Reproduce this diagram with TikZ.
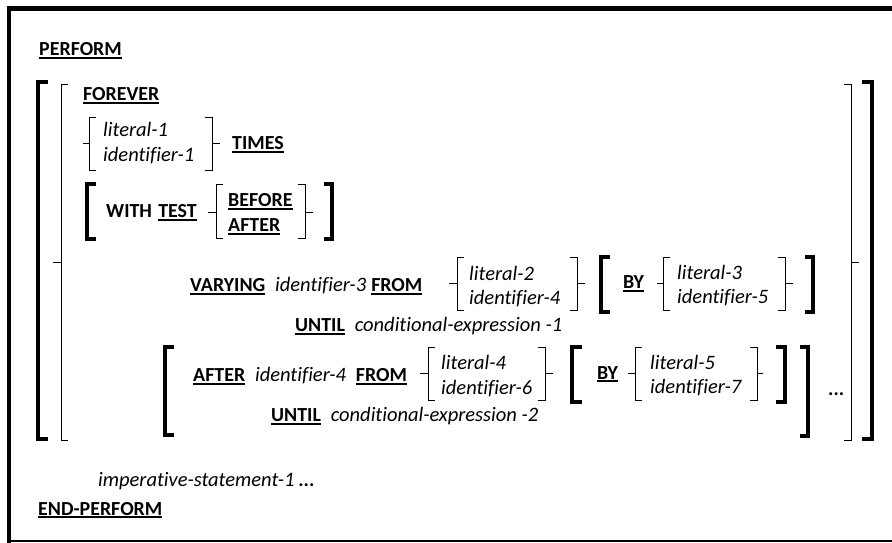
\documentclass[tikz,border=0pt]{standalone}
\usepackage{fontspec}
\setmainfont{Carlito}[Ligatures=NoCommon]
\usepackage{tikz}

% underlined keyword
\newcommand{\kwd}[1]{\setbox0=\hbox{\bfseries #1}\rlap{\rule[-2.6pt]{\wd0}{1.4pt}}\box0}

\begin{document}
\begin{tikzpicture}[
    x=0.03cm, y=-0.03cm,
    every node/.style = {inner sep=0pt, anchor=base west, font=\fontsize{17}{20}\selectfont},
    kw/.style = {font=\fontsize{17}{20}\selectfont\bfseries},
    var/.style = {font=\fontsize{17.5}{20}\selectfont\itshape},
    sqb/.style = {line width=2.6pt},
    brc/.style = {line width=0.8pt}
]
\useasboundingbox (0,0) rectangle (892,543);

% frame
\draw [line width=4.2pt] (9,543) -- (9,8.5) -- (892,8.5);
\draw [line width=1.3pt] (9,541) -- (892,541);

\node (perform) [kw] at (39,56) {\kwd{PERFORM}};

% outer brackets
\draw [sqb] (48,82) -- (38,82) -- (38,439) -- (48,439);
\draw [sqb] (862,82) -- (872,82) -- (872,439) -- (862,439);
\draw [brc] (68,84) -- (61,84) -- (61,440) -- (68,440) (61,262) -- (53,262);
\draw [brc] (844,84) -- (851,84) -- (851,440) -- (844,440) (851,262) -- (859,262);

\node (forever) [kw] at (83,101) {\kwd{FOREVER}};

% times
\draw [brc] (96,117) -- (89,117) -- (89,170) -- (96,170) (89,143) -- (83,143);
\node (lit1) [var] at (103,137) {literal-1};
\node (id1) [var] at (103,162) {identifier-1};
\draw [brc] (205,117) -- (212,117) -- (212,170) -- (205,170) (212,143) -- (220,143);
\node (times) [kw] at (232,150) {\kwd{TIMES}};

% with test
\draw [sqb] (96,184) -- (87,184) -- (87,239) -- (96,239);
\node (with) [kw] at (106,218) {WITH};
\node (test) [kw] at ([xshift=5pt]with.base east) {\kwd{TEST}};
\draw [brc] (223,184) -- (216,184) -- (216,238) -- (223,238) (216,212) -- (208,212);
\node (before) [kw] at (228,207) {\kwd{BEFORE}};
\node (after) [kw] at (228,232) {\kwd{AFTER}};
\draw [brc] (298,184) -- (305,184) -- (305,238) -- (298,238) (305,212) -- (313,212);
\draw [sqb] (324,184) -- (332,184) -- (332,239) -- (324,239);

% varying
\node (varying) [kw] at (190,292) {\kwd{VARYING}};
\node (id3) [var] at ([xshift=8pt]varying.base east) {identifier-3};
\node (from1) [kw] at ([xshift=4pt]id3.base east) {\kwd{FROM}};
\draw [brc] (464,257) -- (457,257) -- (457,310) -- (464,310) (457,283) -- (449,283);
\node (lit2) [var] at (469,281) {literal-2};
\node (id4) [var] at (469,305) {identifier-4};
\draw [brc] (570,257) -- (577,257) -- (577,310) -- (570,310) (577,283) -- (585,283);
\draw [sqb] (610,257) -- (601,257) -- (601,312) -- (610,312);
\node (by1) [kw] at (623,289) {\kwd{BY}};
\draw [brc] (670,257) -- (663,257) -- (663,310) -- (670,310) (663,283) -- (657,283);
\node (lit3) [var] at (677,280) {literal-3};
\node (id5) [var] at (677,304) {identifier-5};
\draw [brc] (778,257) -- (785,257) -- (785,310) -- (778,310) (785,283) -- (793,283);
\draw [sqb] (805,257) -- (813,257) -- (813,312) -- (805,312);
\node (until1) [kw] at (295,332) {\kwd{UNTIL}};
\node (cond1) [var] at ([xshift=8pt]until1.base east) {conditional-expression -1};

% after
\draw [sqb] (174,347) -- (165,347) -- (165,435) -- (174,435);
\node (after2) [kw] at (193,382) {\kwd{AFTER}};
\node (id4b) [var] at ([xshift=8pt]after2.base east) {identifier-4};
\node (from2) [kw] at ([xshift=8pt]id4b.base east) {\kwd{FROM}};
\draw [brc] (435,347) -- (428,347) -- (428,400) -- (435,400) (428,373) -- (420,373);
\node (lit4) [var] at (441,370) {literal-4};
\node (id6) [var] at (441,395) {identifier-6};
\draw [brc] (538,347) -- (545,347) -- (545,400) -- (538,400) (545,373) -- (553,373);
\draw [sqb] (582,347) -- (572,347) -- (572,402) -- (582,402);
\node (by2) [kw] at (597,379) {\kwd{BY}};
\draw [brc] (642,347) -- (635,347) -- (635,400) -- (642,400) (635,373) -- (628,373);
\node (lit5) [var] at (650,370) {literal-5};
\node (id7) [var] at (650,394) {identifier-7};
\draw [brc] (750,347) -- (757,347) -- (757,400) -- (750,400) (757,373) -- (763,373);
\draw [sqb] (776,347) -- (785,347) -- (785,402) -- (776,402);
\draw [sqb] (800,347) -- (808,347) -- (808,436) -- (800,436);
\node (until2) [kw] at (271,422) {\kwd{UNTIL}};
\node (cond2) [var] at ([xshift=8pt]until2.base east) {conditional-expression -2};
\node (dots) [kw] at (828,396) {...};

\node (imp) [var] at (98,486) {imperative-statement-1};
\node (impdots) [kw] at ([xshift=3pt]imp.base east) {...};
\node (endperform) [kw] at (38,515) {\kwd{END-PERFORM}};

\end{tikzpicture}
\end{document}
